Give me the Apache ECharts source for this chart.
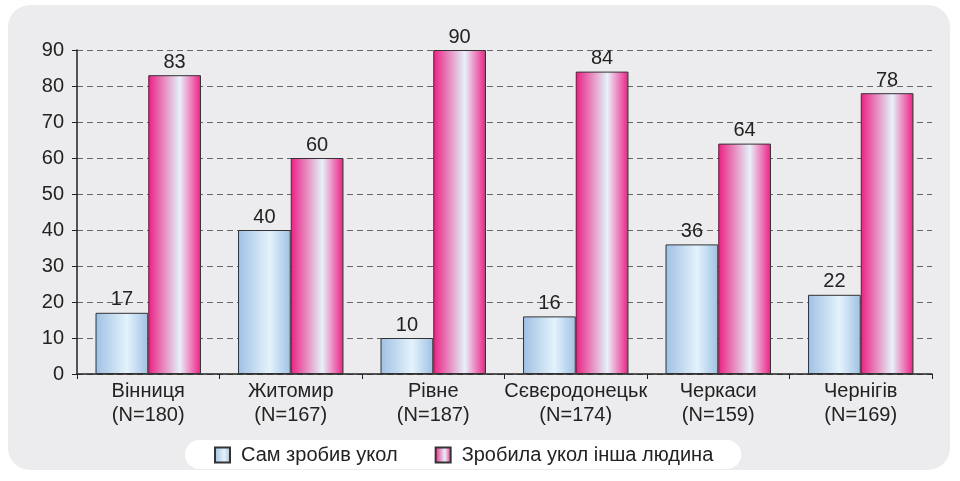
<!DOCTYPE html>
<html>
<head>
<meta charset="utf-8">
<script src="https://cdn.jsdelivr.net/npm/echarts@6/dist/echarts.min.js"></script>
<style>
  html, body { margin: 0; padding: 0; background: #fff; }
  #chart { width: 960px; height: 481px; }
</style>
</head>
<body>
<div id="chart"></div>
<script>
var cities = ['Вінниця', 'Житомир', 'Рівне', 'Сєвєродонецьк', 'Черкаси', 'Чернігів'];
var sampleN = [180, 167, 187, 174, 159, 169];
var selfValues = [17, 40, 10, 16, 36, 22];
var otherValues = [83, 60, 90, 84, 64, 78];

var categories = cities.map(function (c, i) { return c + '\n(N=' + sampleN[i] + ')'; });

function barGradient(edge, mid) {
  return new echarts.graphic.LinearGradient(0, 0, 1, 0, [
    { offset: 0, color: edge },
    { offset: 0.6, color: mid },
    { offset: 1, color: edge }
  ]);
}

var FONT = 'Liberation Sans';
var chart = echarts.init(document.getElementById('chart'));
var labelStyle = { show: true, position: 'top', color: '#222', fontSize: 20, fontFamily: FONT, distance: 3 };

chart.setOption({
  backgroundColor: '#fff',
  animation: false,
  graphic: [{
    type: 'rect', z: -10, silent: true,
    shape: { x: 8, y: 5, width: 942, height: 465, r: 22 },
    style: { fill: '#ececee' }
  }],
  grid: { left: 77, right: 28, top: 50, bottom: 107 },
  legend: {
    bottom: 12,
    left: 185,
    backgroundColor: '#fff',
    borderRadius: 16,
    padding: [5, 28, 4, 29],
    itemGap: 37,
    itemWidth: 15,
    itemHeight: 15,
    icon: 'rect',
    textStyle: { color: '#222', fontSize: 20, fontFamily: FONT, padding: [0, 0, 0, 6] },
    data: ['Сам зробив укол', 'Зробила укол інша людина']
  },
  xAxis: {
    type: 'category',
    data: categories,
    axisLine: { lineStyle: { color: '#222', width: 1.5 } },
    axisTick: { show: true, length: 5, lineStyle: { color: '#222' } },
    axisLabel: { interval: 0, color: '#222', fontSize: 20, fontFamily: FONT, lineHeight: 24, margin: 5 }
  },
  yAxis: {
    type: 'value',
    min: 0, max: 90, interval: 10,
    axisLine: { show: true, lineStyle: { color: '#222', width: 1.5 } },
    axisTick: { show: true, length: 5, lineStyle: { color: '#222' } },
    axisLabel: { color: '#222', fontSize: 20, fontFamily: FONT, margin: 13 },
    splitLine: { lineStyle: { color: '#666', type: [6, 4], width: 1.2 } }
  },
  series: [{
    name: 'Сам зробив укол',
    type: 'bar',
    data: selfValues,
    barGap: '0%',
    barCategoryGap: '26%',
    itemStyle: { color: barGradient('#9fc0e4', '#e4f3fc'), borderColor: '#333', borderWidth: 1 },
    label: labelStyle
  }, {
    name: 'Зробила укол інша людина',
    type: 'bar',
    data: otherValues,
    itemStyle: { color: barGradient('#ec1f84', '#e6f2fa'), borderColor: '#333', borderWidth: 1 },
    label: labelStyle
  }]
});
</script>
</body>
</html>
